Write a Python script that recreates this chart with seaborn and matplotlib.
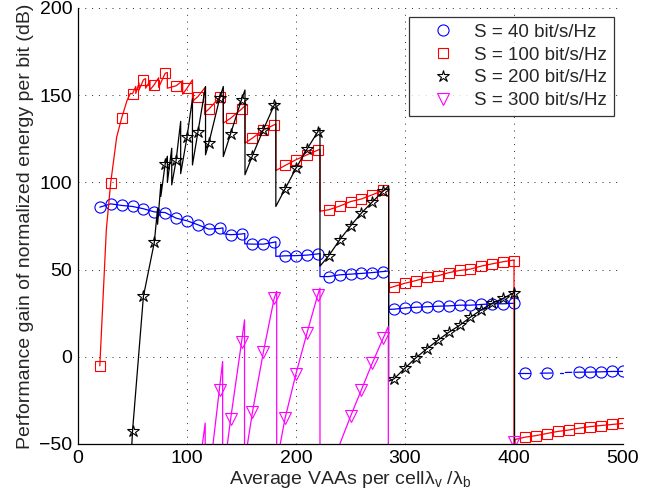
import numpy as np
import pandas as pd
import matplotlib
matplotlib.use("Agg")
import matplotlib.pyplot as plt
import seaborn as sns
from matplotlib.lines import Line2D

nan = np.nan

# ---------------- data ----------------
labels = ["S = 40 bit/s/Hz", "S = 100 bit/s/Hz", "S = 200 bit/s/Hz", "S = 300 bit/s/Hz"]

# marker samples (every 10 VAAs)
s40_mx = list(range(20, 401, 10)) + [410, 430, 460, 470, 480, 490, 500]
s40_my = [85.8, 87.7, 86.8, 86.2, 84.9, 83.1, 82.7, 79.5, 78,
          75.7, 73.2, 73.6, 70, 70.4, 64.6, 64.6, 65.7,
          57.9, 58, 58.3, 59,
          46, 47, 47.4, 47.8, 48.3, 48.9,
          27.3, 28, 28.4, 28.7, 29, 29.2, 29.6, 29.6, 30, 30.4, 30.4, 30.7,
          -9.4, -9.4, -8.8, -8.8, -8.6, -8.4, -8.4]

s100_mx = list(range(20, 501, 10))
s100_my = [-5.2, 99.8, 136.8, 150.8, 158.8, 156.1, 162.6, 155.4, 154,
           149.2, 142, 148.8, 136.8, 142, 125.4, 130, 133,
           109.7, 113, 115.8, 118.5,
           84.3, 86.4, 89, 90.5, 92.9, 95.4,
           40.3, 42.2, 43.7, 45.5, 46.4, 48.2, 49.5, 50.3, 52, 53.3, 54.5, 55.2,
           -46.1, -45.2, -44, -42.8, -42, -40.9, -40, -39.4, -38.8, -38.2]

s200_mx = list(range(50, 401, 10))
s200_my = [-42.8, 34.6, 65.6, 110.7, 112.6, 126,
           128.8, 122.5, 148.3, 127.9, 147.4, 115.3, 130.2, 144.3,
           96.3, 108.1, 119, 129,
           57.9, 67, 75, 82.4, 88.8, 95,
           -12.6, -6.5, -0.6, 4.6, 9.4, 14, 18, 22.7, 27, 30.7, 33.5, 36.8]

s300_mx = [130, 140, 150, 160, 170, 180, 190, 200, 210, 220, 250, 260, 270, 280, 400]
s300_my = [-19, -35.8, 8.2, -31.9, 2.5, 33.6, -35.2, -9.7, 13.5, 35.6,
           -34.2, -18.9, -3.6, 10.7, -49]

# fine-resolution curves (vertices, NaN = gap)
s40_lx = [20, 30, 40, 50, 60, 70, 80, 90, 100, 110, 120, 130, 133, 133, 140, 150, 153, 153,
          160, 170, 180, 181.5, 181.5, 190, 200, 210, 220, 222, 222, 230, 240, 250, 260, 270,
          280, 285, 285, 290, 300, 310, 320, 330, 340, 350, 360, 370, 380, 390, 400,
          nan, 404, 415, nan, 424, 435, nan, 442, 444.6, nan, 447, 453, nan,
          456, 460, 470, 480, 490, 500]
s40_ly = [85.8, 87.7, 86.8, 86.2, 84.9, 83.1, 82.7, 79.5, 78, 75.7, 73.2, 73.6, 73.9, 70.6,
          70, 70.4, 70.7, 64.8, 64.6, 64.6, 65.7, 66, 57.6, 57.9, 58, 58.3, 59, 59.2, 46,
          46, 47, 47.4, 47.8, 48.3, 48.9, 49.2, 27.2, 27.3, 28, 28.4, 28.7, 29, 29.2, 29.6,
          29.6, 30, 30.4, 30.4, 30.7,
          nan, -9.4, -9.4, nan, -9.4, -9.3, nan, -9.1, -9.1, nan, -9.0, -8.9, nan,
          -8.9, -8.8, -8.8, -8.6, -8.4, -8.4]

s100_lx = [20, 26, 30, 35.5, 40, 45, 48, 50, 53, 53, 56, 56, 60, 62, 62, 66, 66, 70, 74, 74,
           80, 82, 82, 90, 96, 96, 100, 105, 105, 110, 116.8, 116.8, 120, 130, 133.3, 133.3,
           140, 150, 153.2, 153.2, 160, 170, 180, 181.5, 181.5, 190, 200, 210, 220, 222, 222,
           230, 240, 250, 260, 270, 280, 285, 285, 290, 300, 310, 320, 330, 340, 350, 360,
           370, 380, 390, 400, 400, 401, 410, 420, 430, 440, 450, 460, 470, 480, 490, 500]
s100_ly = [-5.2, 73, 99.8, 126, 136.8, 147, 151, 150.8, 155, 151, 157, 153, 158.8, 159.5,
           154, 158, 153, 156.1, 160, 154.5, 162.6, 163, 154, 155.4, 158.3, 150.6, 154,
           158.8, 146.4, 149.2, 154.6, 140.3, 142, 148.8, 150, 134, 136.8, 142, 143.9, 122.5,
           125.4, 130, 133, 133.5, 106.8, 109.7, 113, 115.8, 118.5, 119, 83.5, 84.3, 86.4,
           89, 90.5, 92.9, 95.4, 96.5, 39.4, 40.3, 42.2, 43.7, 45.5, 46.4, 48.2, 49.5, 50.3,
           52, 53.3, 54.5, 55.5, -60, -47.4, -46.1, -45.2, -44, -42.8, -42, -40.9, -40,
           -39.4, -38.8, -38.2]

s200_lx = [49, 50, 60, 70, 73, 73, 76, 76, 80, 82, 82, 86, 86, 90, 94.2, 94.2, 100, 105, 105,
           110, 117, 117, 120, 130, 133.3, 133.3, 140, 150, 153.2, 153.2, 160, 170, 180,
           181.5, 181.5, 190, 200, 210, 220, 222, 222, 230, 240, 250, 260, 270, 280, 285,
           285, 290, 300, 310, 320, 330, 340, 350, 360, 370, 380, 390, 400, 400.5, 400.5]
s200_ly = [-55, -42.8, 34.6, 65.6, 85, 76, 99, 92, 110.7, 115, 100, 119.6, 98.6, 112.6, 135,
           105, 126, 148, 110, 128.8, 155, 115.8, 122.5, 148.3, 155, 114.8, 127.9, 147.4,
           153, 104.4, 115.3, 130.2, 144.3, 146, 86.2, 96.3, 108.1, 119, 129, 131, 52, 57.9,
           67, 75, 82.4, 88.8, 95, 98, -14, -12.6, -6.5, -0.6, 4.6, 9.4, 14, 18, 22.7, 27,
           30.7, 33.5, 36.8, 38, -60]

s300_lx = [112, 116.7, 116.7, 122, 132.7, 132.7, 135, 140, 150, 152.8, 152.8, 153, 160, 170,
           180, 182.3, 182.3, 182.5, 190, 200, 210, 220, 222, 222, 234, 250, 260, 270, 280,
           284.7, 284.7, 398, 400, 400]
s300_ly = [-60, -38, -60, -60, -2.7, -60, -60, -35.8, 8.2, 21.2, -60, -60, -31.9, 2.5, 33.6,
           37.5, -60, -60, -35.2, -9.7, 13.5, 35.6, 39.4, -60, -60, -34.2, -18.9, -3.6, 10.7,
           17.4, -60, -60, -49, -60]

colors = ["#0000ff", "#ff0000", "#000000", "#ff00ff"]
markers = ["o", "s", "*", "v"]
msizes = [8, 7, 9, 8.5]

# ---------------- style ----------------
sns.set_theme(style="white")
plt.rcParams["font.family"] = ["Liberation Sans", "DejaVu Sans"]
plt.rcParams["mathtext.fontset"] = "custom"
plt.rcParams["mathtext.rm"] = "Liberation Sans"
plt.rcParams["mathtext.it"] = "Liberation Sans"
plt.rcParams["mathtext.default"] = "regular"

fig = plt.figure(figsize=(6.6, 5.01), dpi=100)
ax = fig.add_axes([78 / 660, 1 - 444 / 501, 545 / 660, 436 / 501])


def curve(lx, ly):
    xs = np.array(lx, dtype=float)
    ys = np.array(ly, dtype=float)
    seg = np.cumsum(np.isnan(xs))
    df = pd.DataFrame({"x": xs, "y": ys, "seg": seg}).dropna()
    return df


lines = [(s40_lx, s40_ly), (s100_lx, s100_ly), (s200_lx, s200_ly), (s300_lx, s300_ly)]
marks = [(s40_mx, s40_my), (s100_mx, s100_my), (s200_mx, s200_my), (s300_mx, s300_my)]

for (lx, ly), (mx, my), c, m, ms in zip(lines, marks, colors, markers, msizes):
    df = curve(lx, ly)
    sns.lineplot(data=df, x="x", y="y", units="seg", estimator=None, sort=False,
                 color=c, lw=0.9, ax=ax, legend=False)
    dm = pd.DataFrame({"x": mx, "y": my})
    sns.lineplot(data=dm, x="x", y="y", estimator=None, sort=False, color=c,
                 linestyle="", marker=m, ms=ms, mfc="none", mec=c, mew=0.8,
                 ax=ax, legend=False)

ax.set_xlim(0, 500)
ax.set_ylim(-50, 200)
ax.set_xticks(range(0, 501, 100))
ax.set_yticks(range(-50, 201, 50))
ax.set_yticklabels(["\u221250", "0", "50", "100", "150", "200"])
ax.tick_params(direction="in", length=5, width=0.8, labelsize=14, colors="black",
               pad=4)
ax.grid(True, linestyle=(0, (1, 6)), color="black", linewidth=0.7, alpha=0.85)
for s in ["top", "right"]:
    ax.spines[s].set_visible(False)
for s in ["left", "bottom"]:
    ax.spines[s].set_color("black")
    ax.spines[s].set_linewidth(0.9)

ax.set_xlabel(r"Average VAAs per cell$\lambda_v$ /$\lambda_b$", fontsize=14, labelpad=2)
ax.set_ylabel("Performance gain of normalized energy per bit (dB)", fontsize=14, labelpad=4)

handles = [Line2D([], [], linestyle="", marker=m, ms=ms, mfc="none", mec=c, mew=0.8)
           for c, m, ms in zip(colors, markers, msizes)]
leg = ax.legend(handles, labels, loc="upper right", bbox_to_anchor=(0.983, 0.979),
                borderaxespad=0, fontsize=13.5, frameon=True, fancybox=False,
                edgecolor="black", handlelength=3.0, handletextpad=0.15,
                labelspacing=0.3, borderpad=0.35)
leg.get_frame().set_linewidth(0.9)

fig.savefig("out.png", dpi=100)
